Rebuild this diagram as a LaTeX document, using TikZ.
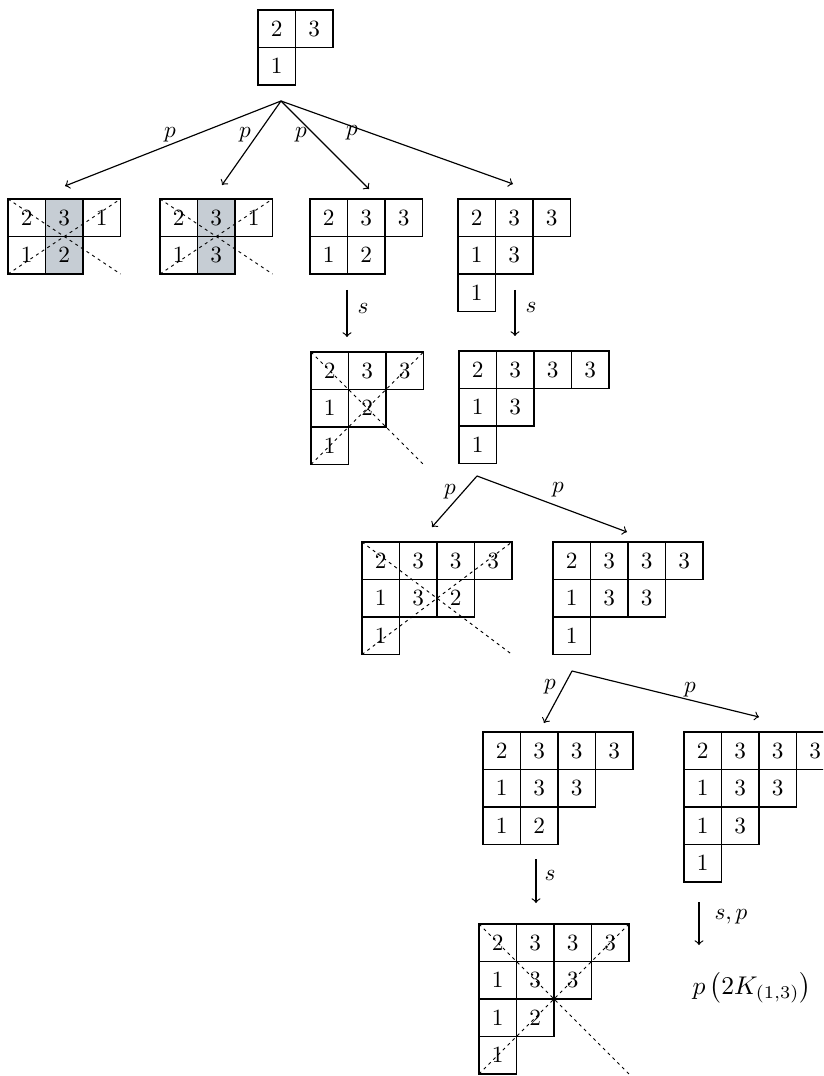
\documentclass[tikz,border=0pt]{standalone}
\usetikzlibrary{backgrounds}
\definecolor{shadec}{RGB}{198,205,212}
\tikzset{
  cell/.style={draw, line width=0.5pt, inner sep=0pt, outer sep=0pt, minimum size=16.125pt},
  diag/.style={line width=0.4pt, dash pattern=on 1.3pt off 1.6pt},
  arr/.style={->, line width=0.5pt},
  lbl/.style={inner sep=0pt},
}
% \ytab{name}{x}{y}{rows}
\newcommand\ytab[4]{%
  \foreach \row [count=\r] in {#4} {
    \foreach \e [count=\c] in \row {
      \node[cell] (#1-\r-\c) at ({#2+(\c-0.5)*37.5},{#3+(\r-0.5)*37.5}) {$\e$};
    }
  }}
\begin{document}
\begin{tikzpicture}[x=0.43pt,y=-0.43pt]
\useasboundingbox (0,0) rectangle (823,1076);
\clip (0,0) rectangle (823,1076);

% tableaux
\ytab{t0}{258}{10}{{2,3},{1}}
\ytab{t1}{8}{199}{{2,3,1},{1,2}}
\ytab{t2}{160}{199}{{2,3,1},{1,3}}
\ytab{t3}{310}{199}{{2,3,3},{1,2}}
\ytab{t4}{458}{199}{{2,3,3},{1,3},{1}}
\ytab{t5}{311}{352}{{2,3,3},{1,2},{1}}
\ytab{t6}{459}{351}{{2,3,3,3},{1,3},{1}}
\ytab{t7}{362}{542}{{2,3,3,3},{1,3,2},{1}}
\ytab{t8}{553}{542}{{2,3,3,3},{1,3,3},{1}}
\ytab{t9}{483}{732}{{2,3,3,3},{1,3,3},{1,2}}
\ytab{t10}{684}{732}{{2,3,3,3},{1,3,3},{1,3},{1}}
\ytab{t11}{479}{924}{{2,3,3,3},{1,3,3},{1,2},{1}}

% shading
\begin{pgfonlayer}{background}
  \fill[shadec] (t1-1-2.north west) rectangle (t1-2-2.south east);
  \fill[shadec] (t2-1-2.north west) rectangle (t2-2-2.south east);
\end{pgfonlayer}

% dashed diagonals
\draw[diag] (t1-1-1.north west) -- (t1-2-1.south west -| t1-1-3.north east);
\draw[diag] (t1-2-1.south west) -- (t1-1-3.north east);
\draw[diag] (t2-1-1.north west) -- (t2-2-1.south west -| t2-1-3.north east);
\draw[diag] (t2-2-1.south west) -- (t2-1-3.north east);
\draw[diag] (t5-1-1.north west) -- (t5-3-1.south west -| t5-1-3.north east);
\draw[diag] (t5-3-1.south west) -- (t5-1-3.north east);
\draw[diag] (t7-1-1.north west) -- (t7-3-1.south west -| t7-1-4.north east);
\draw[diag] (t7-3-1.south west) -- (t7-1-4.north east);
\draw[diag] (t11-1-1.north west) -- (t11-4-1.south west -| t11-1-4.north east);
\draw[diag] (t11-4-1.south west) -- (t11-1-4.north east);

% branch points and arrow ends
\coordinate (b0) at (281,101);
\coordinate (e1) at (65,186);
\coordinate (e2) at (222,185);
\coordinate (e3) at (369,189);
\coordinate (e4) at (513,184);
\coordinate (s1a) at (347,290); \coordinate (s1b) at (347,337);
\coordinate (s2a) at (515,290); \coordinate (s2b) at (515,336);
\coordinate (b1) at (477,476);
\coordinate (e5) at (432,527);
\coordinate (e6) at (627,532);
\coordinate (b2) at (572,671);
\coordinate (e7) at (544,723);
\coordinate (e8) at (759,717);
\coordinate (s3a) at (536,859); \coordinate (s3b) at (536,903);
\coordinate (s4a) at (699,902); \coordinate (s4b) at (699,945);

\draw[arr] (b0) -- (e1);
\draw[arr] (b0) -- (e2);
\draw[arr] (b0) -- (e3);
\draw[arr] (b0) -- (e4);
\draw[arr] (s1a) -- (s1b);
\draw[arr] (s2a) -- (s2b);
\draw[arr] (b1) -- (e5);
\draw[arr] (b1) -- (e6);
\draw[arr] (b2) -- (e7);
\draw[arr] (b2) -- (e8);
\draw[arr] (s3a) -- (s3b);
\draw[arr] (s4a) -- (s4b);

% labels
\node[lbl] (lp1) at (170,135) {$p$};
\node[lbl] (lp2) at (245,135) {$p$};
\node[lbl] (lp3) at (301,135) {$p$};
\node[lbl] (lp4) at (352,133) {$p$};
\node[lbl] (ls1) at (363,308) {$s$};
\node[lbl] (ls2) at (531,307) {$s$};
\node[lbl] (lp5) at (450,492) {$p$};
\node[lbl] (lp6) at (558,490) {$p$};
\node[lbl] (lp7) at (550,687) {$p$};
\node[lbl] (lp8) at (690,690) {$p$};
\node[lbl] (ls3) at (550,875) {$s$};
\node[lbl] (ls4) at (731,917) {$s,p$};
\node[lbl, scale=1.1] (res) at (752,988) {$p\left(2K_{(1,3)}\right)$};
\end{tikzpicture}
\end{document}
